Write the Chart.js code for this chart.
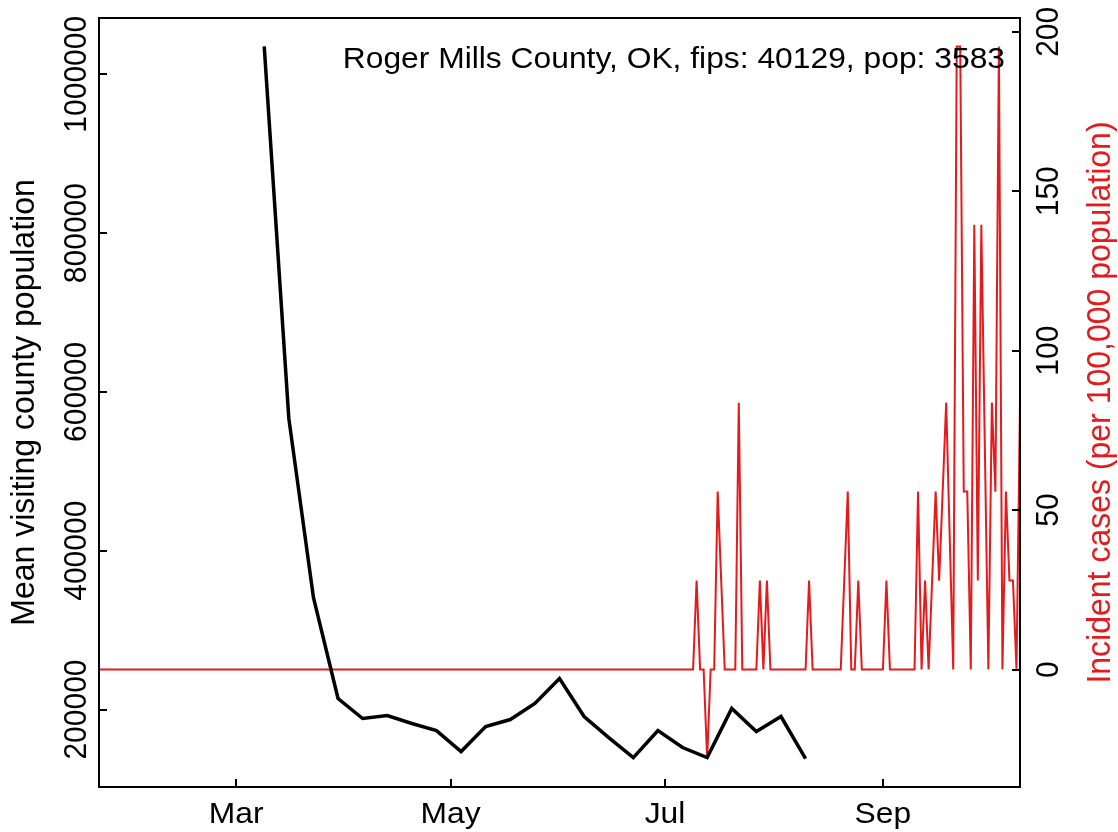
<!DOCTYPE html>
<html>
<head>
<meta charset="utf-8">
<script src="https://cdn.jsdelivr.net/npm/chart.js@4.4.1/dist/chart.umd.min.js"></script>
<style>
body { margin: 0; background: #ffffff; }
canvas { display: block; }
</style>
</head>
<body>
<canvas id="chart" width="1118" height="832"></canvas>
<script>
// day numbers are days since 2020-01-01 (Jan 1 = 0)
var xRange = [21, 283];
var xTickDays = [60, 121, 182, 244];
var xTickLabels = ["Mar", "May", "Jul", "Sep"];
var leftTicks = [200000, 400000, 600000, 800000, 1000000];
var rightTicks = [0, 50, 100, 150, 200];

var titleText = "Roger Mills County, OK, fips: 40129, pop: 3583";
var leftTitle = "Mean visiting county population";
var rightTitle = "Incident cases (per 100,000 population)";

// weekly mean visiting population
var visitDays = [68, 75, 82, 89, 96, 103, 110, 117, 124, 131, 138, 145,
                 152, 159, 166, 173, 180, 187, 194, 201, 208, 215, 222];
var visitValues = [1035000, 566600, 341100, 213900, 188700, 192400, 182400, 173500,
                   147100, 178600, 187400, 207600, 239100, 191200, 164700, 139500,
                   173500, 152100, 139500, 201300, 172300, 191200, 138300];

// daily incident cases per 100k, from day 21 (Jan 22) to day 283
var casesFirstDay = 21;
var casesValues = [
    0, 0, 0, 0, 0, 0, 0, 0, 0, 0, 0, 0, 0, 0, 0, 0, 0, 0, 0, 0,
    0, 0, 0, 0, 0, 0, 0, 0, 0, 0, 0, 0, 0, 0, 0, 0, 0, 0, 0, 0,
    0, 0, 0, 0, 0, 0, 0, 0, 0, 0, 0, 0, 0, 0, 0, 0, 0, 0, 0, 0,
    0, 0, 0, 0, 0, 0, 0, 0, 0, 0, 0, 0, 0, 0, 0, 0, 0, 0, 0, 0,
    0, 0, 0, 0, 0, 0, 0, 0, 0, 0, 0, 0, 0, 0, 0, 0, 0, 0, 0, 0,
    0, 0, 0, 0, 0, 0, 0, 0, 0, 0, 0, 0, 0, 0, 0, 0, 0, 0, 0, 0,
    0, 0, 0, 0, 0, 0, 0, 0, 0, 0, 0, 0, 0, 0, 0, 0, 0, 0, 0, 0,
    0, 0, 0, 0, 0, 0, 0, 0, 0, 0, 0, 0, 0, 0, 0, 0, 0, 0, 0, 0,
    0, 0, 0, 0, 0, 0, 0, 0,                          // to day 188
    0, 0, 27.9, 0, 0, -27.9, 0, 0, 55.8, 27.9,       // 189-198
    0, 0, 0, 0, 83.7, 0, 0, 0, 0, 0,                 // 199-208
    27.9, 0, 27.9, 0, 0, 0, 0, 0, 0, 0,              // 209-218
    0, 0, 0, 0, 27.9, 0, 0, 0, 0, 0,                 // 219-228
    0, 0, 0, 0, 27.9, 55.8, 0, 0, 27.9, 0,           // 229-238
    0, 0, 0, 0, 0, 0, 27.9, 0, 0, 0,                 // 239-248
    0, 0, 0, 0, 0, 55.8, 0, 27.9, 0, 27.9,           // 249-258
    55.8, 27.9, 55.8, 83.7, 41.9, 0, 195.4, 195.4, 55.8, 55.8, // 259-268
    0, 139.5, 27.9, 139.5, 69.8, 0, 83.7, 55.8, 195.4, 0,      // 269-278
    55.8, 27.9, 27.9, 0, 83.7                        // 279-283
];

function padRange(values)
{
    var lo = Math.min.apply(null, values);
    var hi = Math.max.apply(null, values);
    var pad = (hi - lo) * 0.04;
    return [lo - pad, hi + pad];
}

var visitPoints = [];
for (var i = 0; i < visitDays.length; i++)
    visitPoints.push({x: visitDays[i], y: visitValues[i]});

var casesPoints = [];
for (var i = 0; i < casesValues.length; i++)
    casesPoints.push({x: casesFirstDay + i, y: casesValues[i]});

var leftRange = padRange(visitValues);
var rightRange = padRange(casesValues);

var FAMILY = '"Liberation Sans", Arial, sans-serif';
var RED = "#e41a1c";
var STRETCH = 1.06;   // the reference text is a little wider than it is tall

function stretchedText(ctx, text, x, y, align)
{
    ctx.save();
    ctx.translate(x, y);
    ctx.scale(STRETCH, 1);
    ctx.textAlign = align;
    ctx.textBaseline = "alphabetic";
    ctx.fillText(text, 0, 0);
    ctx.restore();
}

function rotatedText(ctx, text, x, y)
{
    ctx.save();
    ctx.translate(x, y);
    ctx.scale(STRETCH, 1);
    ctx.rotate(-Math.PI / 2);
    ctx.textAlign = "center";
    ctx.textBaseline = "alphabetic";
    ctx.fillText(text, 0, 0);
    ctx.restore();
}

// box, inward ticks and all labels, R style
var axesPlugin = {
    id: "rAxes",
    afterDraw: function(chart)
    {
        var ctx = chart.ctx;
        var area = chart.chartArea;
        var sx = chart.scales.x, sy = chart.scales.y, sy1 = chart.scales.y1;
        var tick = 8;

        ctx.save();
        ctx.strokeStyle = "#000000";
        ctx.lineWidth = 2;
        ctx.strokeRect(area.left, area.top, area.right - area.left, area.bottom - area.top);

        ctx.beginPath();
        for (var i = 0; i < xTickDays.length; i++) {
            var px = Math.round(sx.getPixelForValue(xTickDays[i]));
            ctx.moveTo(px, area.bottom);
            ctx.lineTo(px, area.bottom - tick);
        }
        for (var i = 0; i < leftTicks.length; i++) {
            var py = Math.round(sy.getPixelForValue(leftTicks[i]));
            ctx.moveTo(area.left, py);
            ctx.lineTo(area.left + tick, py);
        }
        for (var i = 0; i < rightTicks.length; i++) {
            var py = Math.round(sy1.getPixelForValue(rightTicks[i]));
            ctx.moveTo(area.right, py);
            ctx.lineTo(area.right - tick, py);
        }
        ctx.stroke();

        ctx.font = "30px " + FAMILY;
        ctx.fillStyle = "#000000";
        for (var i = 0; i < xTickDays.length; i++)
            stretchedText(ctx, xTickLabels[i], sx.getPixelForValue(xTickDays[i]), 823, "center");

        for (var i = 0; i < leftTicks.length; i++)
            rotatedText(ctx, String(leftTicks[i]), 86, sy.getPixelForValue(leftTicks[i]));
        for (var i = 0; i < rightTicks.length; i++)
            rotatedText(ctx, String(rightTicks[i]), 1058, sy1.getPixelForValue(rightTicks[i]));

        stretchedText(ctx, titleText, 1005, 68, "right");

        var midY = (area.top + area.bottom) / 2;
        ctx.font = "32px " + FAMILY;
        rotatedText(ctx, leftTitle, 34, midY);
        ctx.fillStyle = RED;
        rotatedText(ctx, rightTitle, 1110, midY);
        ctx.restore();
    }
};

var ctx = document.getElementById("chart").getContext("2d");

var myChart = new Chart(ctx, {
    type: "line",
    data: {
        datasets: [
            {
                label: leftTitle,
                data: visitPoints,
                borderColor: "#000000",
                borderWidth: 3.5,
                pointRadius: 0,
                tension: 0,
                yAxisID: "y"
            },
            {
                label: rightTitle,
                data: casesPoints,
                borderColor: RED,
                borderWidth: 2,
                pointRadius: 0,
                tension: 0,
                yAxisID: "y1"
            }]
    },
    options: {
        responsive: false,
        devicePixelRatio: 1,
        animation: false,
        layout: {padding: {top: 18, left: 0, right: 0, bottom: 0}},
        plugins: {legend: {display: false}, tooltip: {enabled: false}},
        scales: {
            x: {
                type: "linear",
                min: xRange[0],
                max: xRange[1],
                ticks: {display: false},
                grid: {display: false},
                border: {display: false},
                afterFit: function(s) { s.height = 45; }
            },
            y: {
                position: "left",
                min: leftRange[0],
                max: leftRange[1],
                ticks: {display: false},
                grid: {display: false},
                border: {display: false},
                afterFit: function(s) { s.width = 99; }
            },
            y1: {
                position: "right",
                min: rightRange[0],
                max: rightRange[1],
                ticks: {display: false},
                grid: {display: false},
                border: {display: false},
                afterFit: function(s) { s.width = 98; }
            }
        }
    },
    plugins: [axesPlugin]
});
</script>
</body>
</html>
